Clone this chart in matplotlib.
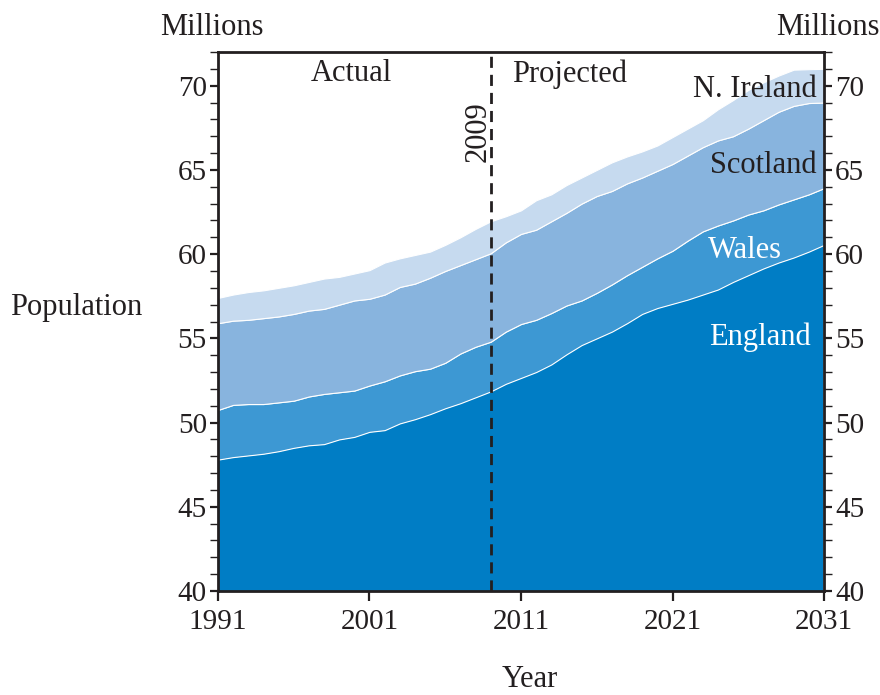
import numpy as np
import matplotlib.pyplot as plt
from matplotlib.ticker import MultipleLocator

plt.rcParams['font.family'] = ['Liberation Serif', 'DejaVu Serif']

# Роки
years = np.arange(1991, 2032)

# Населення за країнами, млн
england = [47.80, 47.95, 48.05, 48.15, 48.30, 48.50, 48.65, 48.72, 49.00, 49.15,
           49.45, 49.55, 49.95, 50.20, 50.50, 50.85, 51.15, 51.50, 51.85, 52.30,
           52.65, 53.00, 53.45, 54.05, 54.60, 55.00, 55.40, 55.90, 56.45, 56.80,
           57.05, 57.30, 57.60, 57.90, 58.35, 58.75, 59.15, 59.50, 59.80, 60.15,
           60.55]
wales = [2.95, 3.10, 3.05, 2.95, 2.90, 2.80, 2.90, 2.98, 2.80, 2.75,
         2.75, 2.90, 2.85, 2.85, 2.70, 2.70, 2.95, 3.00, 2.95, 3.10,
         3.20, 3.10, 3.05, 2.90, 2.65, 2.70, 2.80, 2.85, 2.80, 2.95,
         3.15, 3.50, 3.75, 3.80, 3.65, 3.60, 3.45, 3.45, 3.45, 3.40,
         3.37]
scotland = [5.15, 5.00, 5.00, 5.10, 5.10, 5.15, 5.10, 5.05, 5.20, 5.35,
            5.15, 5.15, 5.25, 5.20, 5.40, 5.45, 5.25, 5.20, 5.25, 5.30,
            5.35, 5.35, 5.45, 5.50, 5.75, 5.75, 5.55, 5.45, 5.30, 5.20,
            5.15, 5.05, 5.00, 5.05, 5.00, 5.10, 5.35, 5.50, 5.55, 5.42,
            5.08]
n_ireland = [1.50, 1.55, 1.65, 1.65, 1.70, 1.70, 1.70, 1.80, 1.65, 1.60,
             1.70, 1.90, 1.70, 1.70, 1.55, 1.55, 1.65, 1.80, 1.90, 1.55,
             1.40, 1.75, 1.60, 1.65, 1.55, 1.55, 1.70, 1.60, 1.55, 1.50,
             1.60, 1.60, 1.60, 1.85, 2.15, 2.30, 2.25, 2.15, 2.15, 2.01,
             2.00]

colors = ['#007dc5', '#3d98d3', '#88b4de', '#c6daef']
ink = '#231f20'

fig = plt.figure(figsize=(8.8, 6.95), dpi=100)
ax = fig.add_axes([0.2477, 0.1496, 0.9364 - 0.2477, 0.9252 - 0.1496])

ax.stackplot(years, england, wales, scotland, n_ireland, colors=colors,
             edgecolor='white', linewidth=0.8)
ax.set_xlim(1991, 2031)
ax.set_ylim(40, 72)

# лінія 2009
ax.axvline(2009, color=ink, linestyle=(0, (4, 2.5)), linewidth=2)

fs = 22
ax.set_xticks([1991, 2001, 2011, 2021, 2031])
ax.yaxis.set_major_locator(MultipleLocator(5))
ax.yaxis.set_minor_locator(MultipleLocator(1))
ax.tick_params(axis='both', which='both', direction='out', labelsize=21,
               colors=ink, pad=2)
ax.tick_params(axis='y', which='both', right=True, labelright=True)
ax.tick_params(axis='y', which='major', length=6, width=1.6)
ax.tick_params(axis='y', which='minor', length=6, width=1.0)
ax.tick_params(axis='x', which='major', length=7, width=1.6, pad=6)
for s in ax.spines.values():
    s.set_linewidth(2)
    s.set_color(ink)
    s.set_zorder(5)

fig.text(0.182, 0.96, 'Millions', fontsize=fs, color=ink, va='center')
fig.text(1.0, 0.96, 'Millions', fontsize=fs, color=ink, va='center', ha='right')
fig.text(0.011, 0.557, 'Population', fontsize=fs, color=ink, va='center')
fig.text(0.602, 0.022, 'Year', fontsize=fs, color=ink, va='center', ha='center')

ax.text(1999.8, 70.7, 'Actual', fontsize=fs, color=ink, ha='center', va='center')
ax.text(2014.2, 70.7, 'Projected', fontsize=fs, color=ink, ha='center', va='center')
ax.text(2008.2, 67.3, '2009', fontsize=fs, color=ink, rotation=90,
        ha='center', va='center')

ax.text(2030.5, 69.8, 'N. Ireland', fontsize=fs, color=ink, ha='right', va='center')
ax.text(2030.5, 65.25, 'Scotland', fontsize=fs, color=ink, ha='right', va='center')
ax.text(2028.2, 60.2, 'Wales', fontsize=fs, color='white', ha='right', va='center')
ax.text(2030.1, 55.05, 'England', fontsize=fs, color='white', ha='right', va='center')

fig.savefig('out.png', dpi=100)
